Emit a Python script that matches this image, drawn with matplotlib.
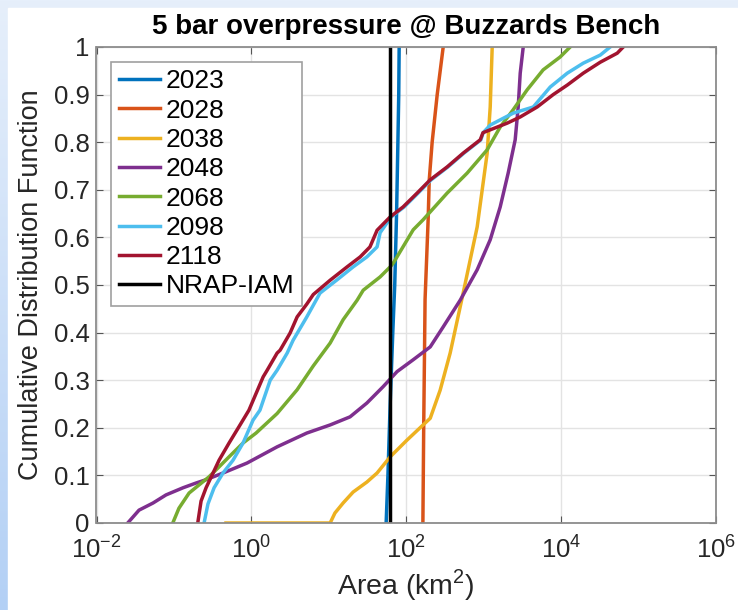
import numpy as np
import matplotlib
matplotlib.use("Agg")
import matplotlib.pyplot as plt
from matplotlib.patches import Rectangle

plt.rcParams['font.family'] = ['Liberation Sans', 'DejaVu Sans']
plt.rcParams['mathtext.fontset'] = 'custom'
plt.rcParams['mathtext.rm'] = 'Liberation Sans'

# CDF of impacted area (km^2) per simulation year
area_2023 = [55, 58, 62, 67, 71, 75, 78, 80, 81]
cdf_2023 = [0, 0.1, 0.25, 0.4, 0.5, 0.65, 0.8, 0.9, 1.0]

area_2028 = [164, 168, 175, 192, 198, 216, 251, 300]
cdf_2028 = [0, 0.2, 0.47, 0.64, 0.72, 0.8, 0.9, 1.0]

area_2038 = [0.47, 10.4, 12, 15.3, 20.6, 31, 42, 62, 102, 165, 204, 274, 369,
             497, 543, 824, 1109, 1214, 1288]
cdf_2038 = [0, 0, 0.021, 0.042, 0.065, 0.086, 0.105, 0.139, 0.174, 0.206, 0.22,
            0.279, 0.357, 0.454, 0.483, 0.622, 0.777, 0.874, 1.0]

area_2048 = [0.0253, 0.0354, 0.0537, 0.079, 0.131, 0.193, 0.26, 0.43, 0.88, 2.15,
             5.2, 10.4, 18.8, 31, 50, 76, 123, 204, 300, 497, 824, 1214, 1634,
             2070, 2551, 2790, 2963, 3240]
cdf_2048 = [0, 0.027, 0.042, 0.059, 0.074, 0.084, 0.091, 0.105, 0.126, 0.16,
            0.189, 0.206, 0.223, 0.252, 0.286, 0.318, 0.343, 0.37, 0.412, 0.468,
            0.532, 0.595, 0.664, 0.735, 0.805, 0.874, 0.945, 1.0]

area_2068 = [0.0966, 0.116, 0.157, 0.211, 0.284, 0.383, 0.515, 0.78, 1.15, 2.15,
             3.9, 6.3, 10.4, 15.3, 23.2, 27.8, 46, 62, 68, 123, 165, 337, 611,
             1109, 1634, 2399, 3640, 5860, 9710, 13090]
cdf_2068 = [0, 0.031, 0.063, 0.08, 0.097, 0.118, 0.139, 0.168, 0.189, 0.23,
            0.28, 0.33, 0.378, 0.427, 0.468, 0.489, 0.517, 0.538, 0.546, 0.616,
            0.637, 0.693, 0.735, 0.784, 0.832, 0.868, 0.91, 0.952, 0.979, 1.0]

area_2098 = [0.245, 0.275, 0.33, 0.43, 0.58, 0.78, 1.05, 1.29, 1.75, 2.15, 2.9,
             3.46, 5.2, 7.7, 12.8, 20.6, 31, 42, 46, 64, 94, 142, 210, 345, 555,
             920, 985, 1214, 2400, 4370, 7240, 12000, 19300, 32000, 43000]
cdf_2098 = [0, 0.04, 0.074, 0.105, 0.132, 0.168, 0.216, 0.237, 0.3, 0.321, 0.357,
            0.384, 0.433, 0.483, 0.511, 0.538, 0.559, 0.58, 0.61, 0.643, 0.664,
            0.693, 0.721, 0.748, 0.777, 0.805, 0.82, 0.836, 0.861, 0.874, 0.916,
            0.945, 0.966, 0.983, 1.0]

area_2118 = [0.203, 0.224, 0.26, 0.32, 0.383, 0.515, 0.69, 0.93, 1.42, 1.6, 2.15,
             2.35, 3.16, 3.9, 5.2, 6.3, 10.4, 17.2, 25.4, 34, 42, 62, 91, 138,
             204, 337, 543, 902, 980, 1214, 2010, 2963, 4910, 7900, 12000, 19300,
             32000, 53000, 63400]
cdf_2118 = [0, 0.046, 0.074, 0.105, 0.132, 0.168, 0.202, 0.237, 0.307, 0.321,
            0.357, 0.363, 0.399, 0.433, 0.46, 0.48, 0.51, 0.538, 0.559, 0.58,
            0.615, 0.643, 0.664, 0.693, 0.721, 0.748, 0.777, 0.805, 0.82, 0.826,
            0.84, 0.853, 0.874, 0.9, 0.92, 0.945, 0.968, 0.987, 1.0]

area_nrap = [62, 62]
cdf_nrap = [0, 1]

series = [
    ("2023", area_2023, cdf_2023, "#0072BD"),
    ("2028", area_2028, cdf_2028, "#D95319"),
    ("2038", area_2038, cdf_2038, "#EDB120"),
    ("2048", area_2048, cdf_2048, "#7E2F8E"),
    ("2068", area_2068, cdf_2068, "#77AC30"),
    ("2098", area_2098, cdf_2098, "#4DBEEE"),
    ("2118", area_2118, cdf_2118, "#A2142F"),
    ("NRAP-IAM", area_nrap, cdf_nrap, "black"),
]

fig = plt.figure(figsize=(7.38, 6.10), dpi=100)

# slide background: blue gradient frame with white panel
bg = fig.add_axes([0, 0, 1, 1], zorder=-10)
grad = np.linspace(0, 1, 256).reshape(-1, 1)
bg.imshow(grad, aspect='auto', cmap=matplotlib.colors.LinearSegmentedColormap.from_list(
    "bg", ["#e6effb", "#b3d0f5"]), extent=[0, 1, 0, 1], origin='upper')
bg.add_patch(Rectangle((8 / 738, 0), 1, 1 - 8 / 610, color='white', transform=bg.transAxes))
bg.set_axis_off()

ax = fig.add_axes([96.5 / 738, 1 - 523 / 610, (716 - 96.5) / 738, (523 - 47) / 610])

for name, x, y, c in series:
    ax.plot(x, y, '-', color=c, lw=2.5, label=name)

ax.set_xscale('log')
ax.set_xlim(1e-2, 1e6)
ax.set_ylim(0, 1)
ax.set_xticks([1e-2, 1e0, 1e2, 1e4, 1e6])
ax.xaxis.set_minor_locator(matplotlib.ticker.NullLocator())
ax.set_yticks(np.arange(0, 1.01, 0.1))
ax.set_yticklabels(["0", "0.1", "0.2", "0.3", "0.4", "0.5", "0.6", "0.7", "0.8", "0.9", "1"])
ax.tick_params(direction='in', top=True, right=True, labelsize=18.5, length=5,
               color='#555555', labelcolor='#262626')
ax.tick_params(axis='x', pad=10)
ax.tick_params(axis='y', pad=5)
ax.grid(True, color='#e3e3e3', lw=1)
for s in ax.spines.values():
    s.set_color('#8c8c8c')
    s.set_linewidth(1.3)

ax.set_title("5 bar overpressure @ Buzzards Bench", fontsize=20, fontweight='bold', pad=9)
ax.set_xlabel("Area (km$^2$)", fontsize=20.5, color='#262626', labelpad=2)
ax.set_ylabel("Cumulative Distribution Function", fontsize=19.5, color='#262626', labelpad=7)

leg = ax.legend(loc='upper left', fontsize=19, handlelength=1.55, handletextpad=0.22,
                labelspacing=0.2, borderpad=0.3, borderaxespad=0.55, fancybox=False,
                framealpha=1, edgecolor='#a0a0a0')
leg.get_frame().set_linewidth(1.2)

fig.savefig("out.png", dpi=100)
